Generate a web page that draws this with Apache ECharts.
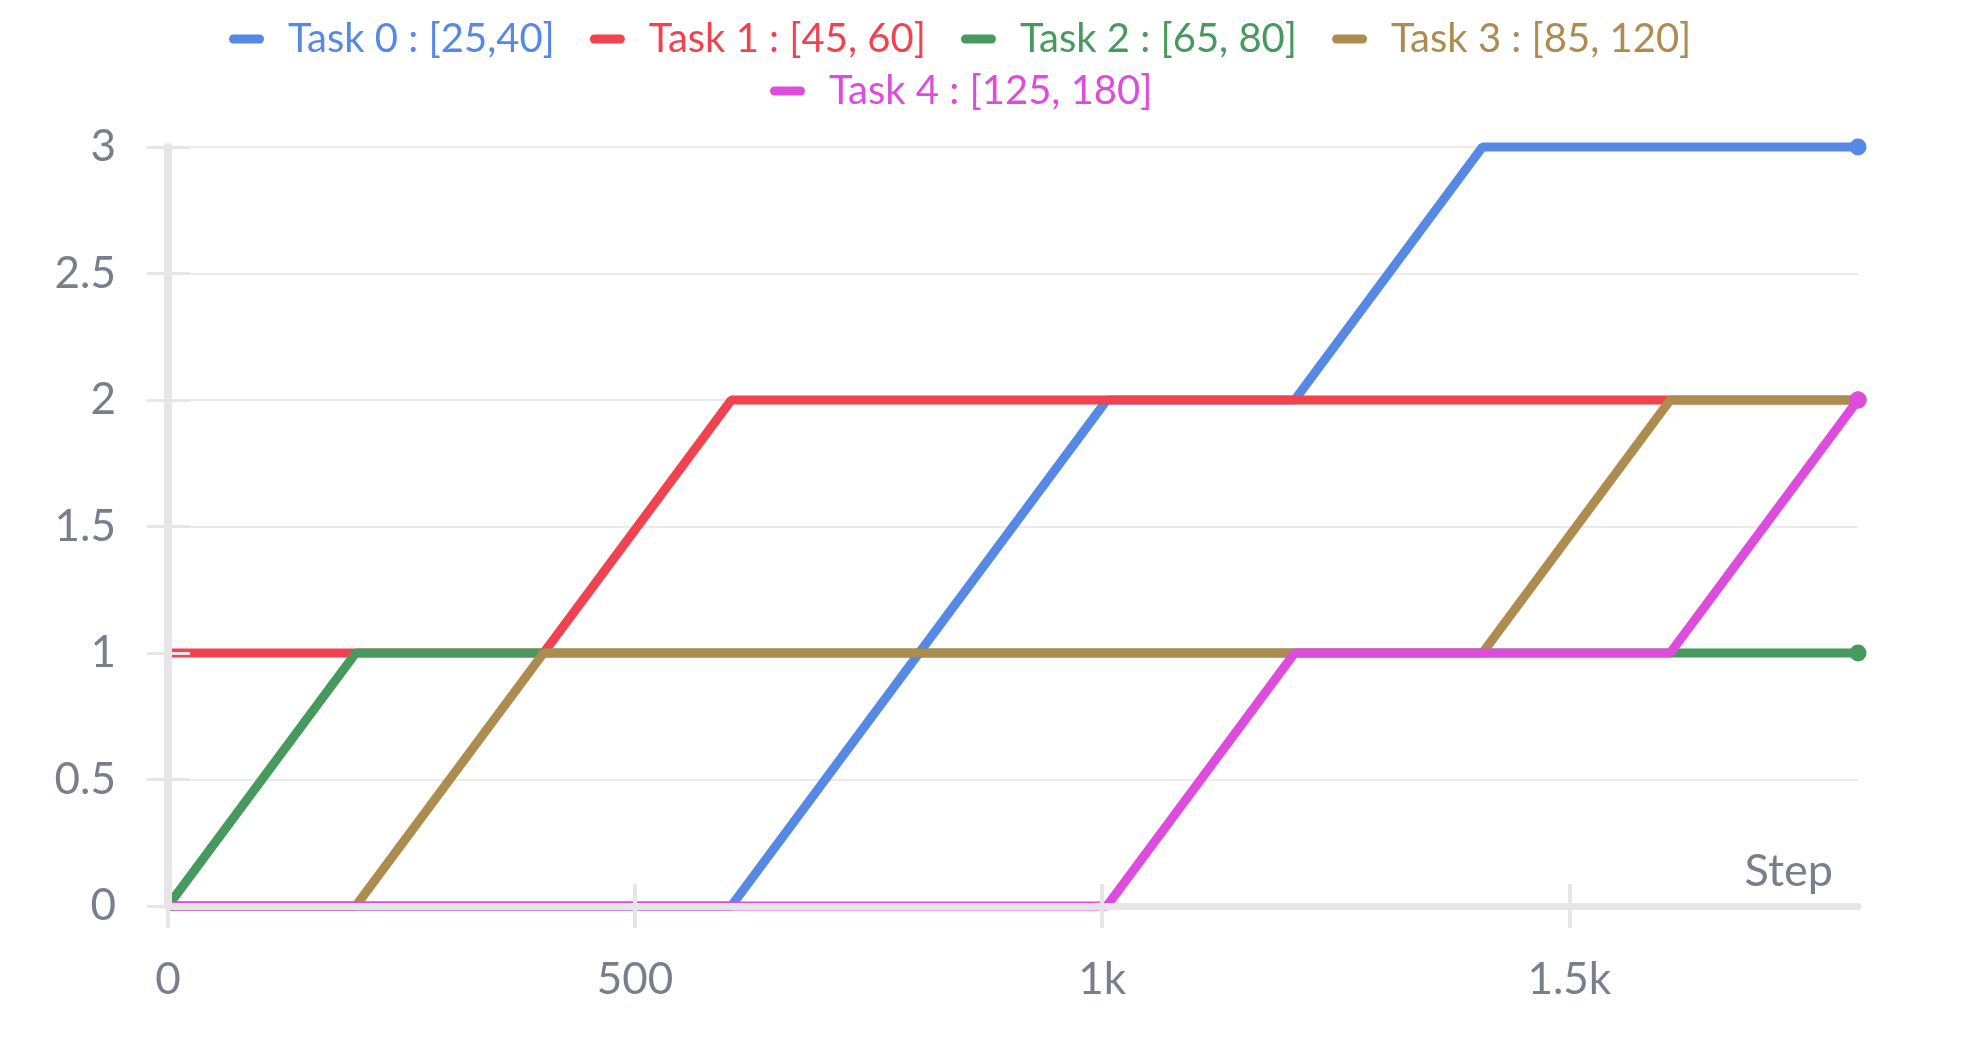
<!DOCTYPE html>
<html>
<head>
<meta charset="utf-8">
<script src="https://cdn.jsdelivr.net/npm/echarts@6/dist/echarts.min.js"></script>
<style>
html,body{margin:0;padding:0;background:#fff;}
#chart{width:1972px;height:1061px;}
</style>
</head>
<body>
<div id="chart"></div>
<script>
const steps = [0, 201, 402, 603, 804, 1005, 1206, 1407, 1608, 1809];
const seriesNames = ['Task 0 : [25,40]', 'Task 1 : [45, 60]', 'Task 2 : [65, 80]', 'Task 3 : [85, 120]', 'Task 4 : [125, 180]'];
const task0 = [0, 0, 0, 0, 1, 2, 2, 3, 3, 3];
const task1 = [1, 1, 1, 2, 2, 2, 2, 2, 2, 2];
const task2 = [0, 1, 1, 1, 1, 1, 1, 1, 1, 1];
const task3 = [0, 0, 1, 1, 1, 1, 1, 1, 2, 2];
const task4 = [0, 0, 0, 0, 0, 0, 1, 1, 1, 2];
const colors = ['#5589e5', '#f1434f', '#479a5e', '#ae8b4f', '#dd4cdd'];
const xTickValues = [0, 500, 1000, 1500];
const xTickLabels = ['0', '500', '1k', '1.5k'];
const yMin = 0, yMax = 3, yInterval = 0.5;
const xMin = 0, xMax = 1809;

const allValues = [task0, task1, task2, task3, task4];
const FONT = 'Lato';
const LABEL_COLOR = '#787f8c';
const AXIS_COLOR = '#e6e6e8';
const pill = 'path://M4.5,0 H30.5 A4.5,4.5 0 0 1 30.5,9 H4.5 A4.5,4.5 0 0 1 4.5,0 Z';

function buildData(vals) {
  return vals.map((v, i) => {
    if (i === vals.length - 1) {
      return { value: [steps[i], v], symbol: 'circle', symbolSize: 17 };
    }
    return { value: [steps[i], v] };
  });
}

const series = allValues.map((vals, k) => ({
  name: seriesNames[k],
  type: 'line',
  xAxisIndex: 0,
  yAxisIndex: 0,
  data: buildData(vals),
  symbol: 'none',
  showSymbol: true,
  showAllSymbol: true,
  clip: false,
  z: 2,
  color: colors[k],
  lineStyle: { width: 9, color: colors[k] },
  itemStyle: { color: colors[k] },
  emphasis: { disabled: true }
}));

function legendData(idx) {
  return idx.map(i => ({ name: seriesNames[i], textStyle: { color: colors[i] } }));
}
const legendCommon = {
  icon: pill,
  itemWidth: 35,
  itemHeight: 9,
  itemGap: 35,
  orient: 'horizontal',
  selectedMode: false,
  textStyle: { fontFamily: FONT, fontSize: 40, padding: [0, 0, 0, 19] }
};

const xLabelFormatter = (v) => {
  const i = xTickValues.indexOf(v);
  return i >= 0 ? xTickLabels[i] : '';
};

const option = {
  animation: false,
  backgroundColor: '#ffffff',
  legend: [
    Object.assign({}, legendCommon, { left: 224, top: 14, data: legendData([0, 1, 2, 3]) }),
    Object.assign({}, legendCommon, { left: 765, top: 66, data: legendData([4]) })
  ],
  grid: { left: 168, right: 114, top: 147, bottom: 155, containLabel: false, outerBoundsMode: 'none' },
  xAxis: [
    {
      type: 'value', min: xMin, max: xMax, position: 'bottom', z: 0,
      axisLine: { show: false, onZero: false }, axisTick: { show: false },
      axisLabel: { show: false }, splitLine: { show: false }
    },
    {
      type: 'value', min: xMin, max: xMax, position: 'bottom', z: 3,
      name: 'Step', nameLocation: 'end', nameGap: -25,
      nameTextStyle: { fontFamily: FONT, fontSize: 45, color: LABEL_COLOR, align: 'right', verticalAlign: 'bottom', padding: [0, 0, 12, 0] },
      axisLine: { show: true, onZero: false, lineStyle: { color: AXIS_COLOR, width: 7 } },
      axisTick: { show: true, customValues: xTickValues, length: 22, lineStyle: { color: AXIS_COLOR, width: 4 } },
      axisLabel: { show: true, customValues: xTickValues, formatter: xLabelFormatter, fontFamily: FONT, fontSize: 44, color: LABEL_COLOR, margin: 52 },
      splitLine: { show: false }
    },
    {
      type: 'value', min: xMin, max: xMax, position: 'bottom', z: 3,
      axisLine: { show: false, onZero: false },
      axisTick: { show: true, inside: true, customValues: xTickValues, length: 22, lineStyle: { color: AXIS_COLOR, width: 4 } },
      axisLabel: { show: false }, splitLine: { show: false }
    }
  ],
  yAxis: [
    {
      type: 'value', min: yMin, max: yMax, interval: yInterval, position: 'left', z: 0,
      axisLine: { show: false, onZero: false }, axisTick: { show: false }, axisLabel: { show: false },
      splitLine: { show: true, lineStyle: { color: '#ebebeb', width: 2 } }
    },
    {
      type: 'value', min: yMin, max: yMax, interval: yInterval, position: 'left', z: 3,
      axisLine: { show: true, onZero: false, lineStyle: { color: AXIS_COLOR, width: 8 } },
      axisTick: { show: true, length: 21, lineStyle: { color: AXIS_COLOR, width: 3 } },
      axisLabel: { show: true, fontFamily: FONT, fontSize: 44, color: LABEL_COLOR, margin: 52 },
      splitLine: { show: false }
    },
    {
      type: 'value', min: yMin, max: yMax, interval: yInterval, position: 'left', z: 3,
      axisLine: { show: false, onZero: false },
      axisTick: { show: true, inside: true, length: 22, lineStyle: { color: AXIS_COLOR, width: 3 } },
      axisLabel: { show: false }, splitLine: { show: false }
    }
  ],
  series: series
};

const chart = echarts.init(document.getElementById('chart'), null, { renderer: 'canvas' });
chart.setOption(option);
</script>
</body>
</html>
